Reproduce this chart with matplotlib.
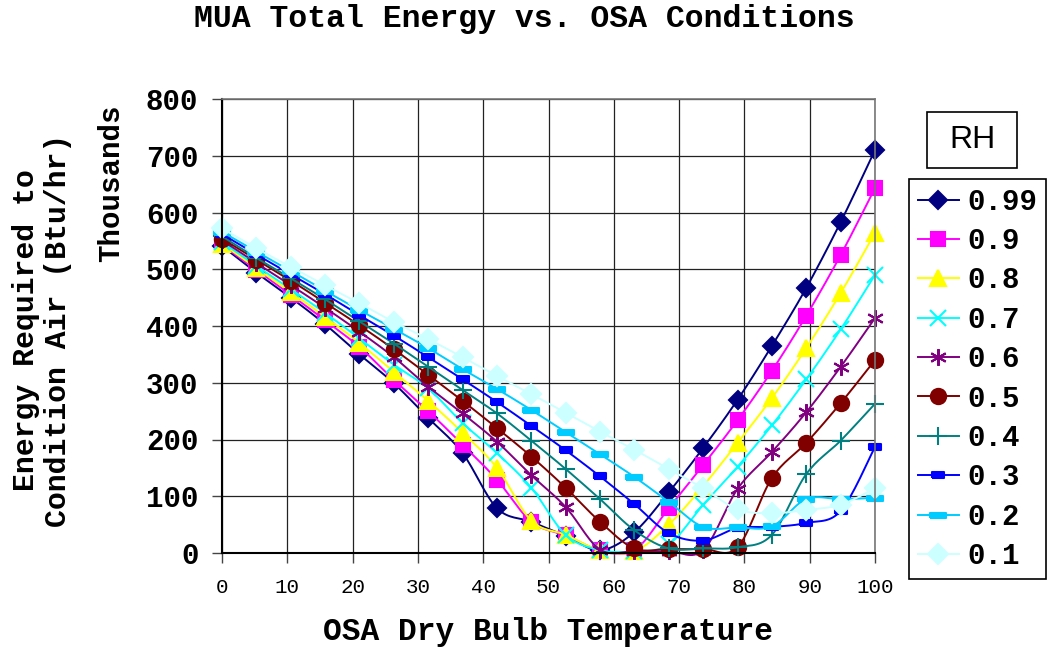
import matplotlib
matplotlib.use("Agg")
import matplotlib.pyplot as plt
from matplotlib.patches import Rectangle
import numpy as np

# OSA dry bulb temperature (F)
temps = [0, 5.26, 10.53, 15.79, 21.05, 26.32, 31.58, 36.84, 42.11, 47.37,
         52.63, 57.89, 63.16, 68.42, 73.68, 78.95, 84.21, 89.47, 94.74, 100]

# energy required, thousands of Btu/hr, one list per relative humidity
rh_labels = ["0.99", "0.9", "0.8", "0.7", "0.6", "0.5", "0.4", "0.3", "0.2", "0.1"]
e_099 = [541, 494, 450, 403, 350, 299, 238, 176, 79, 55, 30, 5, 37, 107, 185, 270, 365, 467, 583, 710]
e_090 = [543, 499, 455, 410, 363, 305, 250, 191, 129, 55, 31, 5, 5, 79, 155, 234, 321, 418, 525, 643]
e_080 = [545, 502, 460, 416, 370, 319, 268, 212, 150, 57, 32, 5, 3, 50, 118, 194, 273, 361, 458, 564]
e_070 = [548, 506, 465, 423, 378, 332, 290, 229, 176, 115, 32, 5, 3, 15, 85, 152, 225, 306, 394, 490]
e_060 = [551, 511, 472, 432, 390, 345, 293, 246, 196, 137, 81, 6, 3, 3, 5, 113, 178, 248, 328, 414]
e_050 = [554, 517, 480, 441, 401, 359, 314, 268, 220, 170, 115, 55, 8, 7, 7, 10, 132, 194, 264, 340]
e_040 = [558, 520, 484, 447, 408, 369, 328, 287, 246, 198, 148, 95, 40, 8, 8, 10, 32, 139, 198, 263]
e_030 = [562, 526, 491, 456, 419, 383, 345, 306, 266, 224, 181, 135, 86, 35, 22, 44, 46, 53, 74, 187]
e_020 = [566, 531, 497, 462, 428, 395, 361, 324, 289, 252, 213, 174, 134, 90, 46, 45, 47, 95, 95, 97]
e_010 = [572, 537, 504, 472, 440, 407, 377, 345, 312, 280, 247, 214, 182, 148, 114, 77, 70, 76, 85, 114]
energy = [e_099, e_090, e_080, e_070, e_060, e_050, e_040, e_030, e_020, e_010]

colors = ["#000080", "#FF00FF", "#FFFF00", "#00FFFF", "#800080",
          "#800000", "#008080", "#0000FF", "#00CCFF", "#CCFFFF"]

short_dash = [(-1, -0.5), (1, -0.5), (1, 0.5), (-1, 0.5), (-1, -0.5)]
long_dash = [(-1, -0.3), (1, -0.3), (1, 0.3), (-1, 0.3), (-1, -0.3)]
markers = ["D", "s", "^", "x", (6, 2, 0), "o", "+", short_dash, long_dash, "D"]
msizes = [9, 10, 11, 11, 12, 11, 13, 8, 12, 10]


def smooth(x, y, steps=16):
    # cubic Bezier through each point, tangents from neighbours (Catmull-Rom)
    x = np.asarray(x, float)
    y = np.asarray(y, float)
    px = np.concatenate([[x[0]], x, [x[-1]]])
    py = np.concatenate([[y[0]], y, [y[-1]]])
    t = np.linspace(0, 1, steps, endpoint=False)
    xs, ys = [], []
    for i in range(1, len(px) - 2):
        p0 = np.array([px[i], py[i]])
        p3 = np.array([px[i + 1], py[i + 1]])
        c1 = p0 + (np.array([px[i + 1], py[i + 1]]) - np.array([px[i - 1], py[i - 1]])) / 6
        c2 = p3 - (np.array([px[i + 2], py[i + 2]]) - np.array([px[i], py[i]])) / 6
        b = ((1 - t) ** 3)[:, None] * p0 + (3 * (1 - t) ** 2 * t)[:, None] * c1 \
            + (3 * (1 - t) * t ** 2)[:, None] * c2 + (t ** 3)[:, None] * p3
        xs.append(b[:, 0])
        ys.append(b[:, 1])
    xs.append([x[-1]])
    ys.append([y[-1]])
    return np.concatenate(xs), np.concatenate(ys), steps


mono = "Liberation Mono"

fig = plt.figure(figsize=(10.47, 6.48), dpi=100)
ax = fig.add_axes([222 / 1047, 95 / 648, 653 / 1047, 454 / 648])

for vals, lab, c, m, ms in zip(energy, rh_labels, colors, markers, msizes):
    sx, sy, st = smooth(temps, vals)
    ax.plot(sx, sy, color=c, lw=1.4, marker=m, ms=ms, mfc=c, mec=c, mew=1.5,
            markevery=list(range(0, len(sx), st)), label=lab, clip_on=False)

ax.set_xlim(0, 100)
ax.set_ylim(0, 800)
ax.set_xticks(range(0, 101, 10))
ax.set_yticks(range(0, 801, 100))
ax.grid(True, color="#222222", lw=0.9)
ax.set_axisbelow(True)
for s in ["top", "right"]:
    ax.spines[s].set_color("#777777")
    ax.spines[s].set_linewidth(1.2)
for s in ["left", "bottom"]:
    ax.spines[s].set_color("black")
    ax.spines[s].set_linewidth(1.5)
ax.tick_params(axis="both", direction="out", length=7, width=1, color="#444444")
ax.tick_params(axis="x", pad=11)
ax.tick_params(axis="y", pad=10)
for t in ax.get_xticklabels():
    t.set_fontfamily(mono)
    t.set_fontsize(15)
for t in ax.get_yticklabels():
    t.set_fontfamily(mono)
    t.set_fontsize(21)
    t.set_fontweight("bold")

fig.text(0.5005, 0.971, "MUA Total Energy vs. OSA Conditions", ha="center", va="center",
         fontfamily=mono, fontweight="bold", fontsize=22.7)
fig.text(548 / 1047, 1 - 632 / 648, "OSA Dry Bulb Temperature", ha="center", va="center",
         fontfamily=mono, fontweight="bold", fontsize=22.5)
fig.text(42 / 1047, 1 - 330 / 648, "Energy Required to\nCondition Air (Btu/hr)",
         rotation=90, ha="center", va="center", multialignment="center",
         fontfamily=mono, fontweight="bold", fontsize=21.5, linespacing=1.2)
fig.text(111 / 1047, 1 - 183 / 648, "Thousands", rotation=90, ha="center", va="center",
         fontfamily=mono, fontweight="bold", fontsize=21)

# RH title box above the legend
fig.patches.append(Rectangle((927 / 1047, 1 - 168 / 648), 90 / 1047, 56 / 648,
                             transform=fig.transFigure, fill=False, ec="black", lw=1.2))
fig.text(972 / 1047, 1 - 140 / 648, "RH", ha="center", va="center",
         fontfamily="Liberation Sans", fontsize=23)

leg = fig.legend(loc="upper left", bbox_to_anchor=(909 / 1047, 1 - 179 / 648),
                 borderaxespad=0, fancybox=False, framealpha=1, edgecolor="black",
                 prop={"family": mono, "weight": "bold", "size": 21},
                 handlelength=1.4, handletextpad=0.3, borderpad=0.3,
                 labelspacing=0.39, numpoints=1)
leg.get_frame().set_linewidth(1.2)

fig.savefig("out.png", dpi=100)
